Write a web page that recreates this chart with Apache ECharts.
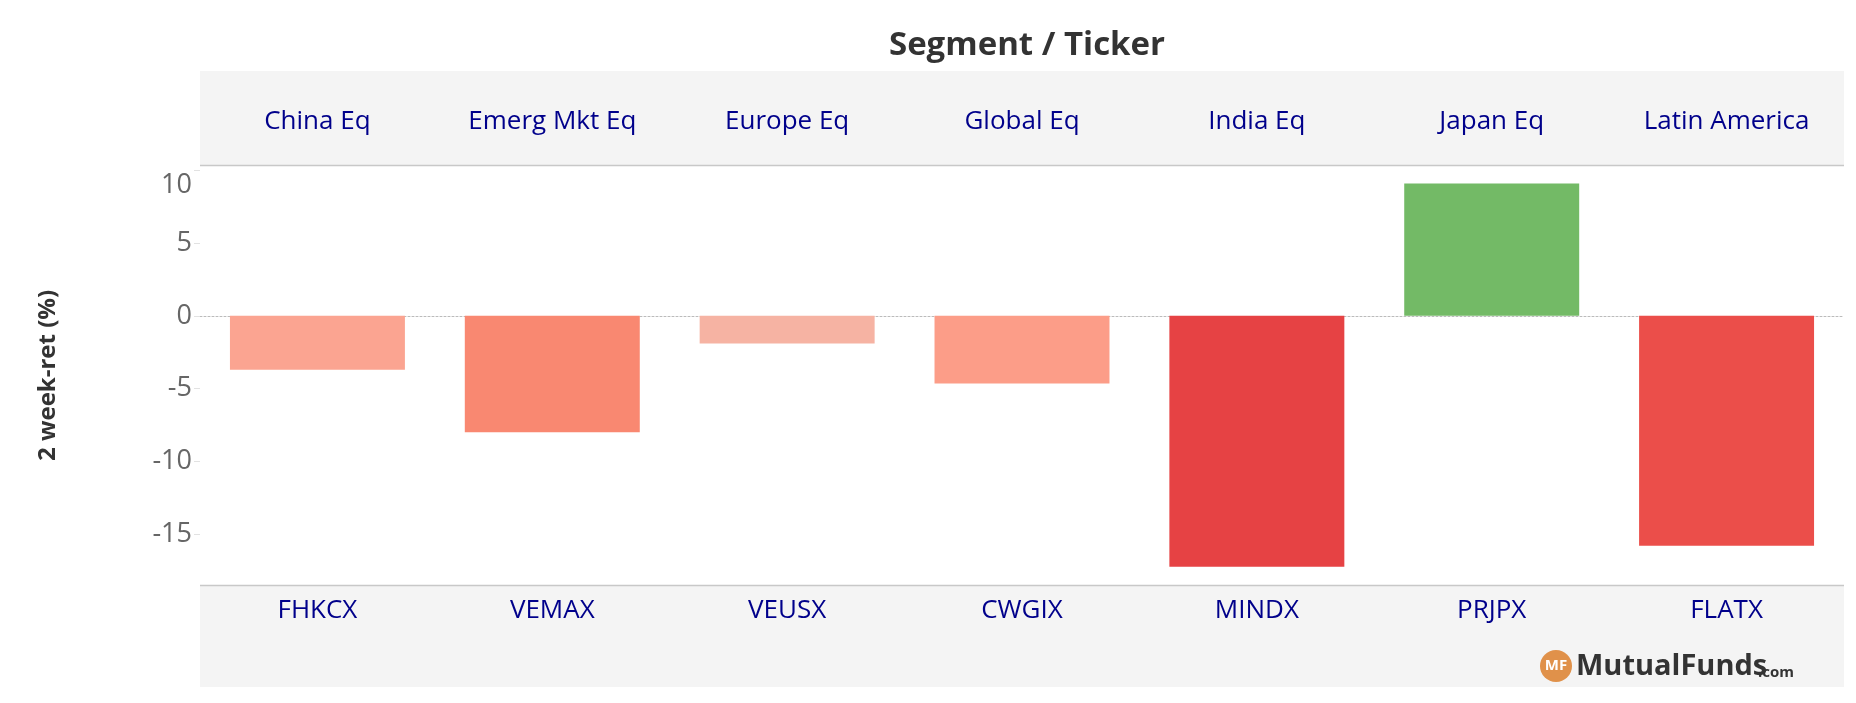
<!DOCTYPE html>
<html>
<head>
<meta charset="utf-8">
<script src="https://cdn.jsdelivr.net/npm/echarts@6/dist/echarts.min.js"></script>
<style>
html,body{margin:0;padding:0;background:#fff;}
#chart{width:1856px;height:703px;}
</style>
</head>
<body>
<div id="chart"></div>
<script>
// ---- data ----
const segments = ['China Eq', 'Emerg Mkt Eq', 'Europe Eq', 'Global Eq', 'India Eq', 'Japan Eq', 'Latin America'];
const tickers = ['FHKCX', 'VEMAX', 'VEUSX', 'CWGIX', 'MINDX', 'PRJPX', 'FLATX'];
const returns2w = [-3.7, -8.0, -1.9, -4.65, -17.25, 9.1, -15.8];
const yTicks = [-15, -10, -5, 0, 5, 10];

// ---- style ----
const barColors = ['#FBA491', '#F98871', '#F6B3A3', '#FC9D88', '#E64244', '#73BA66', '#EB4E4A'];
const L = 200, R = 12, T = 166, B = 118, W = 1856, H = 703;
const FONT = 'Open Sans';

const chart = echarts.init(document.getElementById('chart'), null, {renderer: 'canvas'});
chart.setOption({
  backgroundColor: '#ffffff',
  animation: false,
  title: {
    text: 'Segment / Ticker',
    left: (L + (W - R)) / 2, top: 24, textAlign: 'center',
    textStyle: {fontFamily: FONT, fontSize: 33, fontWeight: 'bold', color: '#333333'}
  },
  grid: {left: L, right: R, top: T, bottom: B, containLabel: false},
  graphic: [
    {type: 'rect', z: -5, silent: true, shape: {x: L, y: 71, width: W - R - L, height: T - 71}, style: {fill: '#F4F4F4'}},
    {type: 'line', z: -4, silent: true, shape: {x1: L, y1: T - 0.5, x2: W - R, y2: T - 0.5}, style: {stroke: '#C8C8C8', lineWidth: 1.5}},
    {type: 'rect', z: -5, silent: true, shape: {x: L, y: H - B, width: W - R - L, height: 102}, style: {fill: '#F4F4F4'}},
    {type: 'line', z: -4, silent: true, shape: {x1: L, y1: H - B + 0.5, x2: W - R, y2: H - B + 0.5}, style: {stroke: '#C8C8C8', lineWidth: 1.5}},
    {type: 'circle', silent: true, shape: {cx: 1556, cy: 666, r: 16}, style: {fill: '#E0914A'}},
    {type: 'text', silent: true, x: 1556, y: 666, style: {text: 'MF', fill: '#ffffff', font: 'bold 15px "Open Sans"', align: 'center', verticalAlign: 'middle'}},
    {type: 'text', silent: true, x: 1576, y: 667, style: {text: 'MutualFunds', fill: '#333333', font: 'bold 29px "Open Sans"', align: 'left', verticalAlign: 'middle'}},
    {type: 'text', silent: true, x: 1758, y: 673, style: {text: '.com', fill: '#333333', font: 'bold 15px "Open Sans"', align: 'left', verticalAlign: 'middle'}}
  ],
  xAxis: [
    {
      type: 'category', data: tickers, position: 'bottom',
      axisLine: {show: true, onZero: true, lineStyle: {color: '#BBBBBB', width: 1, type: [2, 2]}},
      axisTick: {show: false}, axisLabel: {show: false}, splitLine: {show: false}
    },
    {
      type: 'category', data: tickers, position: 'bottom',
      axisLine: {show: false, onZero: false}, axisTick: {show: false}, splitLine: {show: false},
      axisLabel: {show: true, color: '#00008B', fontFamily: FONT, fontSize: 26, margin: 13}
    },
    {
      type: 'category', data: segments, position: 'top',
      axisLine: {show: false, onZero: false}, axisTick: {show: false}, splitLine: {show: false},
      axisLabel: {show: true, color: '#00008B', fontFamily: FONT, fontSize: 26, margin: 31}
    }
  ],
  yAxis: {
    type: 'value', min: -18.5, max: 10.3, splitNumber: 6,
    name: '2 week-ret (%)', nameLocation: 'middle', nameGap: 140,
    nameTextStyle: {fontFamily: FONT, fontSize: 24, fontWeight: 'bold', color: '#333333'},
    axisLine: {show: false},
    axisTick: {show: true, length: 6, lineStyle: {color: '#E2E2E2'}},
    splitLine: {show: false},
    axisLabel: {
      color: '#666666', fontFamily: FONT, fontSize: 27, margin: 8,
      showMinLabel: false, showMaxLabel: false,
      formatter: function (v) {
        if (yTicks.indexOf(v) < 0) return '';
        if (v === yTicks[yTicks.length - 1]) return '{top|' + v + '}';
        return String(v);
      },
      rich: {top: {color: '#666666', fontFamily: FONT, fontSize: 27, padding: [30, 0, 0, 0]}}
    }
  },
  series: [{
    type: 'bar', xAxisIndex: 0, yAxisIndex: 0, barWidth: '74.5%',
    data: returns2w.map((v, i) => ({value: v, itemStyle: {color: barColors[i]}})),
    silent: true
  }]
});
</script>
</body>
</html>
